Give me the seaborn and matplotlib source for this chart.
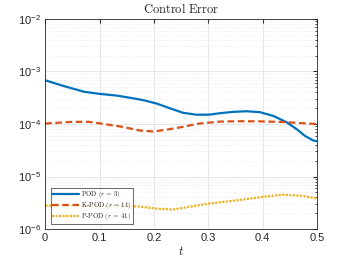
import numpy as np
import pandas as pd
import seaborn as sns
import matplotlib
matplotlib.use("Agg")
import matplotlib.pyplot as plt
from matplotlib.ticker import LogLocator, FixedLocator, FuncFormatter, NullFormatter

# --- values ---
t_pod = [0.0, 0.035, 0.072, 0.099, 0.133, 0.162, 0.181, 0.205, 0.23, 0.254, 0.279, 0.303, 0.32,
         0.345, 0.37, 0.395, 0.42, 0.444, 0.463, 0.478, 0.493, 0.50]
err_pod = [6.8e-4, 5.25e-4, 4.1e-4, 3.76e-4, 3.46e-4, 3.08e-4, 2.84e-4, 2.45e-4, 1.98e-4, 1.63e-4,
           1.5e-4, 1.51e-4, 1.6e-4, 1.7e-4, 1.75e-4, 1.68e-4, 1.42e-4, 1.08e-4, 7.9e-5, 5.9e-5,
           4.85e-5, 4.7e-5]

t_kpod = [0.0, 0.05, 0.08, 0.10, 0.14, 0.175, 0.20, 0.23, 0.25, 0.28, 0.32, 0.36, 0.40, 0.44, 0.47, 0.50]
err_kpod = [1.02e-4, 1.1e-4, 1.1e-4, 1.03e-4, 8.9e-5, 7.5e-5, 7.2e-5, 8.0e-5, 8.7e-5, 1.01e-4, 1.11e-4,
            1.13e-4, 1.12e-4, 1.09e-4, 1.04e-4, 1.0e-4]

t_ppod = [0.0, 0.05, 0.10, 0.17, 0.205, 0.235, 0.27, 0.30, 0.35, 0.40, 0.436, 0.473, 0.50]
err_ppod = [2.8e-6, 2.8e-6, 2.75e-6, 2.7e-6, 2.45e-6, 2.35e-6, 2.7e-6, 3.05e-6, 3.5e-6, 4.1e-6, 4.5e-6,
            4.3e-6, 3.8e-6]

labels = [r"$\mathrm{POD}\ (r\,=\,3)$", r"$\mathrm{K}$-$\mathrm{POD}\ (r\,=\,11)$",
          r"$\mathrm{P}$-$\mathrm{POD}\ (r\,=\,41)$"]
colors = ["#0072BD", "#D95319", "#EDB120"]

df = pd.concat([
    pd.DataFrame({"t": t_pod, "err": err_pod, "method": labels[0]}),
    pd.DataFrame({"t": t_kpod, "err": err_kpod, "method": labels[1]}),
    pd.DataFrame({"t": t_ppod, "err": err_ppod, "method": labels[2]}),
], ignore_index=True)

sns.set_style("white")
plt.rcParams["font.family"] = ["Liberation Sans", "DejaVu Sans"]
plt.rcParams["mathtext.fontset"] = "cm"

fig, ax = plt.subplots(figsize=(3.5, 2.63), dpi=100)
fig.subplots_adjust(left=0.129, right=0.906, top=0.928, bottom=0.129)

styles = {labels[0]: "", labels[1]: (3, 1.6), labels[2]: (1, 0.6)}
sns.lineplot(data=df, x="t", y="err", hue="method", style="method",
             palette=dict(zip(labels, colors)), dashes=styles, linewidth=1.6,
             ax=ax, sort=True)

ax.set_yscale("log")
ax.set_xlim(0, 0.5)
ax.set_ylim(1e-6, 1e-2)

ax.xaxis.set_major_locator(FixedLocator([0, 0.1, 0.2, 0.3, 0.4, 0.5]))
ax.xaxis.set_major_formatter(FuncFormatter(lambda v, p: f"{v:g}"))
ax.yaxis.set_major_locator(LogLocator(base=10, numticks=10))
ax.yaxis.set_minor_locator(LogLocator(base=10, subs=np.arange(2, 10), numticks=20))
ax.yaxis.set_minor_formatter(NullFormatter())
ax.yaxis.set_major_formatter(FuncFormatter(
    lambda v, p: r"$\mathregular{10^{%d}}$" % int(round(np.log10(v)))))

ax.grid(True, which="major", color="#e3e3e3", linewidth=0.6)
ax.grid(True, which="minor", axis="y", color="#e6e6e6", linewidth=0.5, linestyle=(0, (1, 1.5)))
ax.set_axisbelow(True)

for s in ax.spines.values():
    s.set_visible(True)
    s.set_color("#262626")
    s.set_linewidth(0.6)
ax.tick_params(which="both", direction="in", top=True, right=True, labelsize=8, color="#262626",
               labelcolor="#262626", pad=3)
ax.tick_params(which="major", length=3)
ax.tick_params(which="minor", length=1.5)

ax.set_title(r"$\mathrm{Control\ Error}$", fontsize=9, pad=4)
ax.set_xlabel(r"$t$", fontsize=9, labelpad=1)
ax.set_ylabel("")

leg = ax.legend(loc="lower left", fontsize=4.9, frameon=True, fancybox=False, handlelength=4.0,
                borderpad=0.2, labelspacing=0.0, handletextpad=0.3, borderaxespad=0.8)
leg.get_frame().set_edgecolor("#262626")
leg.get_frame().set_linewidth(0.6)
leg.set_title(None)

fig.savefig("out.png", dpi=100)
